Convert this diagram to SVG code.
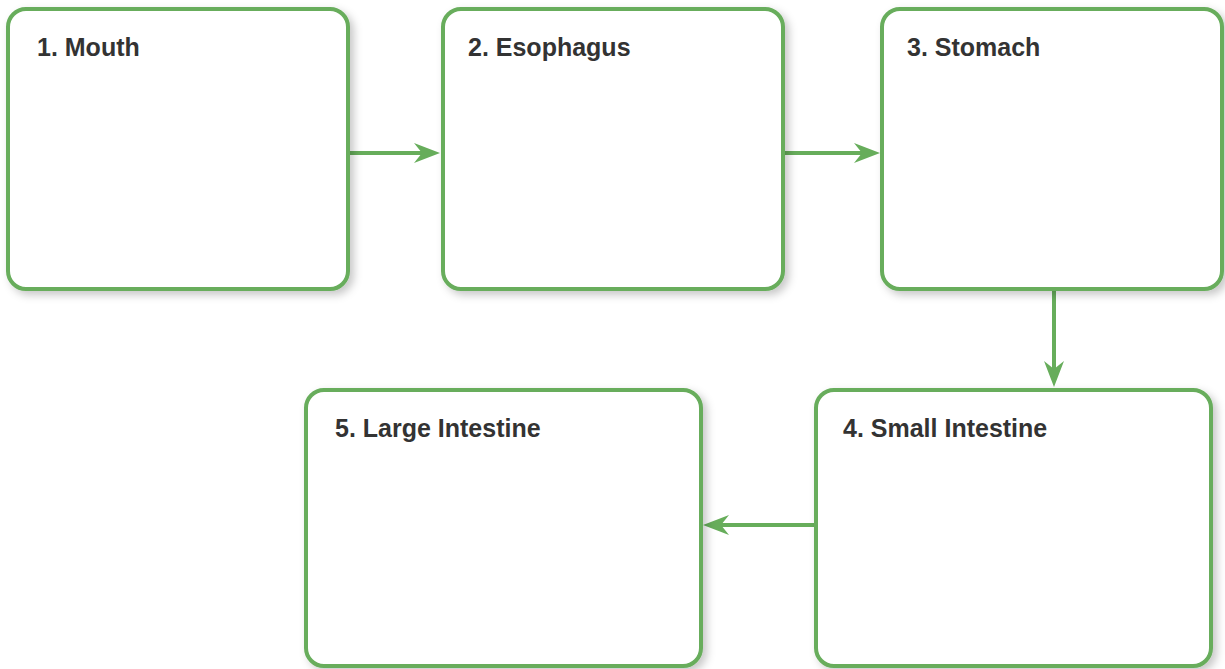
<svg xmlns="http://www.w3.org/2000/svg" width="1225" height="669" viewBox="0 0 1225 669">
<style>
.box{fill:#fff;stroke:#67ad5b;stroke-width:4;filter:url(#sh)}
.lbl{font-family:"Liberation Sans",Arial,sans-serif;font-weight:bold;font-size:25px;fill:#333}
.conn{stroke:#67ad5b;stroke-width:4;fill:none;marker-end:url(#arr)}
</style>
<defs>
<filter id="sh" x="-10%" y="-10%" width="125%" height="125%">
<feDropShadow dx="4" dy="4" stdDeviation="4" flood-color="#000" flood-opacity="0.22"/>
</filter>
<marker id="arr" markerUnits="userSpaceOnUse" markerWidth="30" markerHeight="24" refX="8" refY="11" orient="auto" viewBox="0 0 30 24">
<path d="M26,11 L0,1 L8,11 L0,21 Z" fill="#67ad5b"/>
</marker>
</defs>
<rect width="1225" height="669" fill="#fff"/>
<g id="connectors">
<line class="conn" x1="349" y1="153" x2="422" y2="153"/>
<line class="conn" x1="784" y1="153" x2="862" y2="153"/>
<line class="conn" x1="1054" y1="290" x2="1054" y2="369"/>
<line class="conn" x1="814" y1="525" x2="721" y2="525"/>
</g>
<g id="node1"><rect class="box" x="8" y="9" width="340" height="280" rx="18"/><text class="lbl" x="37" y="56">1. Mouth</text></g>
<g id="node2"><rect class="box" x="443" y="9" width="340" height="280" rx="18"/><text class="lbl" x="468" y="56">2. Esophagus</text></g>
<g id="node3"><rect class="box" x="882" y="9" width="340" height="280" rx="18"/><text class="lbl" x="907" y="56">3. Stomach</text></g>
<g id="node4"><rect class="box" x="816" y="390" width="395" height="276" rx="18"/><text class="lbl" x="843" y="437">4. Small Intestine</text></g>
<g id="node5"><rect class="box" x="306" y="390" width="395" height="276" rx="18"/><text class="lbl" x="335" y="437">5. Large Intestine</text></g>
</svg>
